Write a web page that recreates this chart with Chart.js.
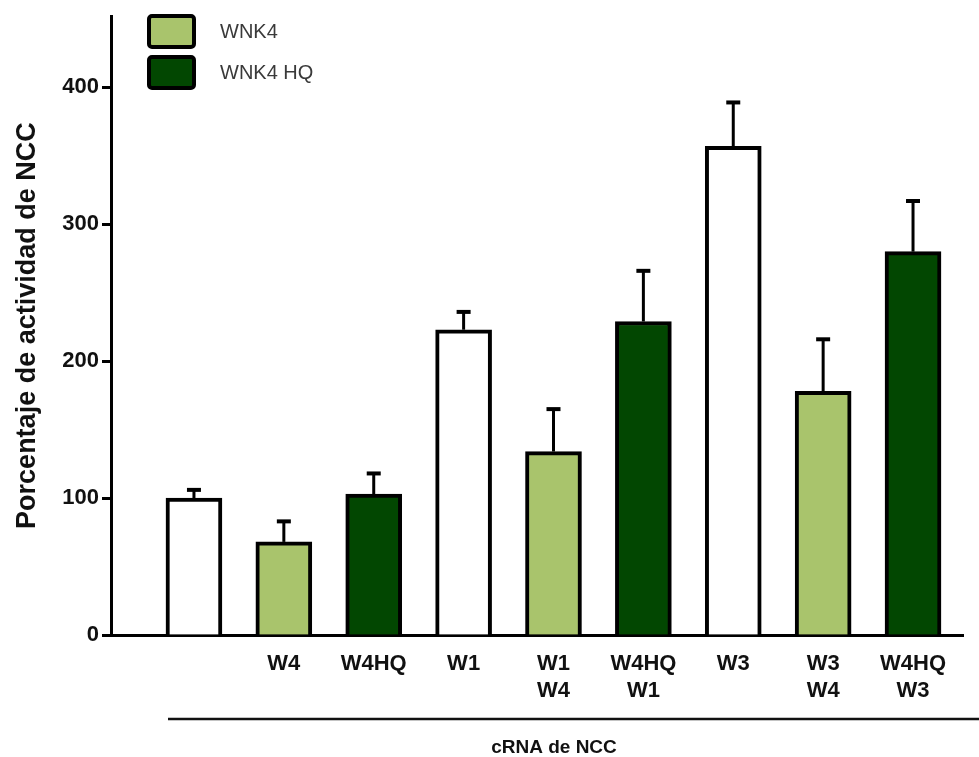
<!DOCTYPE html>
<html>
<head>
<meta charset="utf-8">
<script src="https://cdn.jsdelivr.net/npm/chart.js@4.4.1/dist/chart.umd.min.js"></script>
<style>
  body { margin: 0; background: #fff; }
  #wrap { width: 979px; height: 757px; }
</style>
</head>
<body>
<div id="wrap"><canvas id="chart"></canvas></div>
<script>
// Bar groups (under "cRNA de NCC")
const labels = ["", "W4", "W4HQ", "W1", ["W1", "W4"], ["W4HQ", "W1"], "W3", ["W3", "W4"], ["W4HQ", "W3"]];
// Mean % NCC activity and SEM
const values = [100, 68, 103, 223, 134, 229, 357, 178, 280];
const errors = [6, 15, 15, 13, 31, 37, 32, 38, 37];
// which co-injected WNK4 each bar has (none / WNK4 / WNK4 HQ)
const groups = ["none", "wnk4", "hq", "none", "wnk4", "hq", "none", "wnk4", "hq"];
const yTicks = [0, 100, 200, 300, 400];
const legendNames = ["WNK4", "WNK4 HQ"];

const groupColors = { none: "#ffffff", wnk4: "#a9c46c", hq: "#024701" };
const legendColors = [groupColors.wnk4, groupColors.hq];

// error bars on top of each bar
const errorBars = {
  id: "errorBars",
  afterDatasetsDraw(chart) {
    const ctx = chart.ctx;
    const y = chart.scales.y;
    const meta = chart.getDatasetMeta(0);
    ctx.save();
    ctx.strokeStyle = "#000";
    meta.data.forEach((bar, i) => {
      const top = y.getPixelForValue(values[i]);
      const end = y.getPixelForValue(values[i] + errors[i]);
      ctx.lineWidth = 3;
      ctx.beginPath();
      ctx.moveTo(bar.x, top);
      ctx.lineTo(bar.x, end);
      ctx.stroke();
      ctx.lineWidth = 4;
      ctx.beginPath();
      ctx.moveTo(bar.x - 7, end);
      ctx.lineTo(bar.x + 7, end);
      ctx.stroke();
    });
    ctx.restore();
  }
};

// legend boxes in the top left + the bracket line under the labels
const extras = {
  id: "extras",
  afterDraw(chart) {
    const ctx = chart.ctx;
    ctx.save();
    legendNames.forEach((name, i) => {
      const top = 16 + i * 41;
      ctx.fillStyle = legendColors[i];
      ctx.strokeStyle = "#000";
      ctx.lineWidth = 4;
      ctx.beginPath();
      ctx.roundRect(149, top, 45, 31, 3);
      ctx.fill();
      ctx.stroke();
      ctx.fillStyle = "#3a3a3a";
      ctx.font = "20px 'Liberation Sans', Arial, sans-serif";
      ctx.textBaseline = "middle";
      ctx.textAlign = "left";
      ctx.fillText(name, 220, top + 16);
    });

    ctx.strokeStyle = "#111";
    ctx.lineWidth = 2.5;
    ctx.beginPath();
    ctx.moveTo(168, 719);
    ctx.lineTo(979, 719);
    ctx.stroke();

    ctx.fillStyle = "#111";
    ctx.font = "bold 19px 'Liberation Sans', Arial, sans-serif";
    ctx.textAlign = "center";
    ctx.textBaseline = "middle";
    ctx.fillText("cRNA de NCC", 554, 748);
    ctx.restore();
  }
};

new Chart(document.getElementById("chart"), {
  type: "bar",
  data: {
    datasets: [{
      data: values.map((v, i) => ({ x: i, y: v })),
      backgroundColor: groups.map(g => groupColors[g]),
      borderColor: "#000",
      borderWidth: 4,
      barThickness: 56
    }]
  },
  plugins: [errorBars, extras],
  options: {
    responsive: true,
    maintainAspectRatio: false,
    animation: false,
    layout: { padding: { top: 13, right: 16, left: 0, bottom: 0 } },
    plugins: {
      legend: { display: false },
      tooltip: { enabled: false }
    },
    scales: {
      x: {
        type: "linear",
        offset: false,
        min: -0.923,
        max: 8.556,
        afterBuildTicks: s => { s.ticks = labels.map((_, i) => ({ value: i })); },
        afterFit: s => { s.height = 122; },
        grid: { display: false },
        border: { display: true, color: "#000", width: 3 },
        ticks: {
          autoSkip: false,
          maxRotation: 0,
          padding: 8,
          color: "#111",
          font: { family: "'Liberation Sans', Arial, sans-serif", size: 22, weight: "bold" },
          callback: v => labels[v]
        }
      },
      y: {
        min: 0,
        max: 452,
        afterBuildTicks: s => { s.ticks = yTicks.map(v => ({ value: v })); },
        afterFit: s => { s.width = 111; },
        grid: { drawOnChartArea: false, drawTicks: true, tickLength: 9, tickWidth: 3, tickColor: "#000" },
        border: { display: true, color: "#000", width: 3 },
        ticks: {
          padding: 3,
          color: "#111",
          font: { family: "'Liberation Sans', Arial, sans-serif", size: 22, weight: "bold" }
        },
        title: {
          display: true,
          text: "Porcentaje de actividad de NCC",
          color: "#111",
          padding: { top: 11, bottom: 0 },
          font: { family: "'Liberation Sans', Arial, sans-serif", size: 27, weight: "bold" }
        }
      }
    }
  }
});
</script>
</body>
</html>
